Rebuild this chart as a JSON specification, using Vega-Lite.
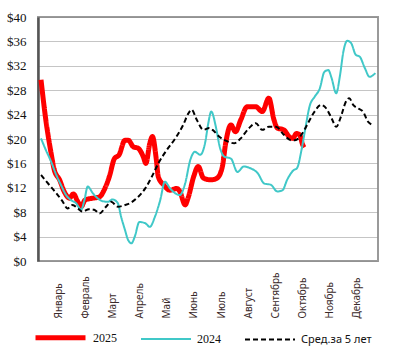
{
  "$schema": "https://vega.github.io/schema/vega-lite/v6.json",
  "width": 340,
  "height": 244,
  "autosize": {"type": "none"},
  "padding": {"left": 38, "top": 17, "right": 21, "bottom": 92},
  "background": "white",
  "config": {
    "view": {"stroke": "#9a9a9a", "strokeWidth": 2},
    "font": "Liberation Serif"
  },
  "data": {
    "values": [
      {"series": "2025", "week": 0.46, "price": 29.7},
      {"series": "2025", "week": 1.2, "price": 23.1},
      {"series": "2025", "week": 2.0, "price": 17.7},
      {"series": "2025", "week": 2.5, "price": 14.9},
      {"series": "2025", "week": 3.3, "price": 13.3},
      {"series": "2025", "week": 4.0, "price": 11.4},
      {"series": "2025", "week": 4.8, "price": 10.3},
      {"series": "2025", "week": 5.4, "price": 11.0},
      {"series": "2025", "week": 6.1, "price": 9.7},
      {"series": "2025", "week": 6.6, "price": 8.9},
      {"series": "2025", "week": 7.2, "price": 10.0},
      {"series": "2025", "week": 8.4, "price": 10.3},
      {"series": "2025", "week": 9.4, "price": 10.5},
      {"series": "2025", "week": 10.1, "price": 11.6},
      {"series": "2025", "week": 10.9, "price": 13.8},
      {"series": "2025", "week": 11.7, "price": 16.8},
      {"series": "2025", "week": 12.4, "price": 17.4},
      {"series": "2025", "week": 13.3, "price": 19.8},
      {"series": "2025", "week": 13.8, "price": 19.8},
      {"series": "2025", "week": 14.6, "price": 18.7},
      {"series": "2025", "week": 15.3, "price": 18.5},
      {"series": "2025", "week": 16.1, "price": 17.1},
      {"series": "2025", "week": 16.5, "price": 16.0},
      {"series": "2025", "week": 17.1, "price": 19.3},
      {"series": "2025", "week": 17.5, "price": 20.4},
      {"series": "2025", "week": 18.1, "price": 16.6},
      {"series": "2025", "week": 18.4, "price": 13.8},
      {"series": "2025", "week": 19.2, "price": 12.5},
      {"series": "2025", "week": 20.2, "price": 11.6},
      {"series": "2025", "week": 21.2, "price": 11.9},
      {"series": "2025", "week": 21.7, "price": 11.4},
      {"series": "2025", "week": 22.5, "price": 9.2},
      {"series": "2025", "week": 23.0, "price": 10.5},
      {"series": "2025", "week": 23.8, "price": 13.8},
      {"series": "2025", "week": 24.5, "price": 15.5},
      {"series": "2025", "week": 25.3, "price": 13.6},
      {"series": "2025", "week": 26.4, "price": 13.3},
      {"series": "2025", "week": 27.4, "price": 13.6},
      {"series": "2025", "week": 28.2, "price": 15.5},
      {"series": "2025", "week": 28.7, "price": 19.3},
      {"series": "2025", "week": 29.5, "price": 22.3},
      {"series": "2025", "week": 30.2, "price": 21.2},
      {"series": "2025", "week": 31.0, "price": 23.1},
      {"series": "2025", "week": 32.0, "price": 25.3},
      {"series": "2025", "week": 33.3, "price": 25.3},
      {"series": "2025", "week": 34.3, "price": 24.5},
      {"series": "2025", "week": 35.3, "price": 26.7},
      {"series": "2025", "week": 36.1, "price": 23.1},
      {"series": "2025", "week": 36.6, "price": 21.8},
      {"series": "2025", "week": 37.6, "price": 21.5},
      {"series": "2025", "week": 38.4, "price": 20.4},
      {"series": "2025", "week": 39.0, "price": 20.1},
      {"series": "2025", "week": 39.5, "price": 20.9},
      {"series": "2025", "week": 40.0, "price": 20.7},
      {"series": "2025", "week": 40.5, "price": 19.0},
      {"series": "2025", "week": 40.7, "price": 18.6},

      {"series": "2024", "week": 0.46, "price": 20.1},
      {"series": "2024", "week": 1.2, "price": 18.2},
      {"series": "2024", "week": 2.0, "price": 16.3},
      {"series": "2024", "week": 2.8, "price": 14.1},
      {"series": "2024", "week": 3.5, "price": 12.5},
      {"series": "2024", "week": 4.3, "price": 10.8},
      {"series": "2024", "week": 5.0, "price": 10.0},
      {"series": "2024", "week": 5.8, "price": 9.5},
      {"series": "2024", "week": 6.6, "price": 8.4},
      {"series": "2024", "week": 7.1, "price": 10.0},
      {"series": "2024", "week": 7.6, "price": 12.2},
      {"series": "2024", "week": 8.4, "price": 11.1},
      {"series": "2024", "week": 9.1, "price": 10.3},
      {"series": "2024", "week": 9.9, "price": 9.8},
      {"series": "2024", "week": 10.7, "price": 9.7},
      {"series": "2024", "week": 11.4, "price": 10.1},
      {"series": "2024", "week": 12.2, "price": 9.5},
      {"series": "2024", "week": 12.7, "price": 7.3},
      {"series": "2024", "week": 13.3, "price": 5.1},
      {"series": "2024", "week": 13.8, "price": 3.4},
      {"series": "2024", "week": 14.3, "price": 2.9},
      {"series": "2024", "week": 14.8, "price": 4.0},
      {"series": "2024", "week": 15.5, "price": 6.4},
      {"series": "2024", "week": 16.4, "price": 6.2},
      {"series": "2024", "week": 17.1, "price": 5.6},
      {"series": "2024", "week": 17.9, "price": 7.3},
      {"series": "2024", "week": 18.7, "price": 10.0},
      {"series": "2024", "week": 19.4, "price": 13.0},
      {"series": "2024", "week": 20.2, "price": 11.9},
      {"series": "2024", "week": 21.0, "price": 11.1},
      {"series": "2024", "week": 21.7, "price": 10.8},
      {"series": "2024", "week": 22.5, "price": 12.7},
      {"series": "2024", "week": 23.3, "price": 16.6},
      {"series": "2024", "week": 24.0, "price": 17.9},
      {"series": "2024", "week": 24.8, "price": 17.4},
      {"series": "2024", "week": 25.6, "price": 19.6},
      {"series": "2024", "week": 26.0, "price": 22.3},
      {"series": "2024", "week": 26.5, "price": 24.5},
      {"series": "2024", "week": 27.2, "price": 22.0},
      {"series": "2024", "week": 27.8, "price": 18.7},
      {"series": "2024", "week": 28.5, "price": 17.1},
      {"series": "2024", "week": 29.5, "price": 16.8},
      {"series": "2024", "week": 30.5, "price": 14.6},
      {"series": "2024", "week": 31.5, "price": 15.5},
      {"series": "2024", "week": 32.5, "price": 15.2},
      {"series": "2024", "week": 33.6, "price": 14.4},
      {"series": "2024", "week": 34.6, "price": 12.7},
      {"series": "2024", "week": 35.6, "price": 12.5},
      {"series": "2024", "week": 36.6, "price": 11.4},
      {"series": "2024", "week": 37.4, "price": 11.6},
      {"series": "2024", "week": 38.1, "price": 13.3},
      {"series": "2024", "week": 39.1, "price": 14.9},
      {"series": "2024", "week": 39.6, "price": 15.2},
      {"series": "2024", "week": 40.3, "price": 18.2},
      {"series": "2024", "week": 40.8, "price": 21.2},
      {"series": "2024", "week": 41.6, "price": 25.6},
      {"series": "2024", "week": 42.3, "price": 26.9},
      {"series": "2024", "week": 43.1, "price": 28.3},
      {"series": "2024", "week": 43.8, "price": 31.0},
      {"series": "2024", "week": 44.4, "price": 31.3},
      {"series": "2024", "week": 44.9, "price": 30.0},
      {"series": "2024", "week": 45.6, "price": 27.5},
      {"series": "2024", "week": 46.2, "price": 30.5},
      {"series": "2024", "week": 46.7, "price": 34.3},
      {"series": "2024", "week": 47.3, "price": 36.1},
      {"series": "2024", "week": 47.9, "price": 35.7},
      {"series": "2024", "week": 48.6, "price": 33.8},
      {"series": "2024", "week": 49.2, "price": 33.5},
      {"series": "2024", "week": 50.0, "price": 31.6},
      {"series": "2024", "week": 50.7, "price": 30.2},
      {"series": "2024", "week": 51.6, "price": 30.8},

      {"series": "Сред.за 5 лет", "week": 0.46, "price": 14.1},
      {"series": "Сред.за 5 лет", "week": 1.7, "price": 12.5},
      {"series": "Сред.за 5 лет", "week": 2.8, "price": 11.1},
      {"series": "Сред.за 5 лет", "week": 3.8, "price": 9.7},
      {"series": "Сред.за 5 лет", "week": 4.5, "price": 8.6},
      {"series": "Сред.за 5 лет", "week": 5.3, "price": 9.2},
      {"series": "Сред.за 5 лет", "week": 6.1, "price": 8.6},
      {"series": "Сред.за 5 лет", "week": 6.8, "price": 8.1},
      {"series": "Сред.за 5 лет", "week": 7.8, "price": 8.5},
      {"series": "Сред.за 5 лет", "week": 8.6, "price": 8.4},
      {"series": "Сред.за 5 лет", "week": 9.4, "price": 7.8},
      {"series": "Сред.за 5 лет", "week": 10.4, "price": 8.9},
      {"series": "Сред.за 5 лет", "week": 11.2, "price": 9.7},
      {"series": "Сред.за 5 лет", "week": 12.2, "price": 8.9},
      {"series": "Сред.за 5 лет", "week": 13.4, "price": 9.2},
      {"series": "Сред.за 5 лет", "week": 14.1, "price": 9.5},
      {"series": "Сред.за 5 лет", "week": 15.3, "price": 10.5},
      {"series": "Сред.за 5 лет", "week": 16.4, "price": 11.9},
      {"series": "Сред.за 5 лет", "week": 17.4, "price": 13.8},
      {"series": "Сред.за 5 лет", "week": 18.4, "price": 16.0},
      {"series": "Сред.за 5 лет", "week": 19.7, "price": 18.2},
      {"series": "Сред.за 5 лет", "week": 21.0, "price": 20.1},
      {"series": "Сред.за 5 лет", "week": 22.2, "price": 22.3},
      {"series": "Сред.за 5 лет", "week": 23.0, "price": 24.2},
      {"series": "Сред.за 5 лет", "week": 23.5, "price": 24.8},
      {"series": "Сред.за 5 лет", "week": 24.3, "price": 23.1},
      {"series": "Сред.за 5 лет", "week": 25.3, "price": 21.5},
      {"series": "Сред.за 5 лет", "week": 26.2, "price": 21.8},
      {"series": "Сред.за 5 лет", "week": 26.7, "price": 21.5},
      {"series": "Сред.за 5 лет", "week": 27.7, "price": 20.4},
      {"series": "Сред.за 5 лет", "week": 29.0, "price": 19.6},
      {"series": "Сред.за 5 лет", "week": 30.0, "price": 19.3},
      {"series": "Сред.за 5 лет", "week": 31.0, "price": 20.1},
      {"series": "Сред.за 5 лет", "week": 32.3, "price": 21.8},
      {"series": "Сред.за 5 лет", "week": 33.3, "price": 22.6},
      {"series": "Сред.за 5 лет", "week": 34.3, "price": 21.5},
      {"series": "Сред.за 5 лет", "week": 35.3, "price": 22.0},
      {"series": "Сред.за 5 лет", "week": 36.4, "price": 22.0},
      {"series": "Сред.за 5 лет", "week": 37.6, "price": 20.7},
      {"series": "Сред.за 5 лет", "week": 38.7, "price": 19.8},
      {"series": "Сред.за 5 лет", "week": 39.3, "price": 19.8},
      {"series": "Сред.за 5 лет", "week": 40.3, "price": 20.7},
      {"series": "Сред.за 5 лет", "week": 41.3, "price": 22.6},
      {"series": "Сред.за 5 лет", "week": 42.3, "price": 24.5},
      {"series": "Сред.за 5 лет", "week": 43.3, "price": 25.6},
      {"series": "Сред.за 5 лет", "week": 44.1, "price": 25.0},
      {"series": "Сред.за 5 лет", "week": 44.9, "price": 23.4},
      {"series": "Сред.за 5 лет", "week": 45.6, "price": 22.0},
      {"series": "Сред.за 5 лет", "week": 46.4, "price": 23.9},
      {"series": "Сред.за 5 лет", "week": 47.0, "price": 25.9},
      {"series": "Сред.за 5 лет", "week": 47.6, "price": 26.7},
      {"series": "Сред.за 5 лет", "week": 48.2, "price": 25.6},
      {"series": "Сред.за 5 лет", "week": 49.0, "price": 25.0},
      {"series": "Сред.за 5 лет", "week": 49.7, "price": 24.5},
      {"series": "Сред.за 5 лет", "week": 50.5, "price": 22.8},
      {"series": "Сред.за 5 лет", "week": 51.3, "price": 22.3}
    ]
  },
  "mark": {"type": "line", "interpolate": "monotone", "strokeCap": "butt"},
  "encoding": {
    "x": {
      "field": "week",
      "type": "quantitative",
      "scale": {"domain": [0, 52], "nice": false, "zero": false},
      "axis": {
        "title": null,
        "grid": false,
        "ticks": false,
        "domain": false,
        "values": [3.1, 7.25, 11.4, 15.55, 19.7, 23.85, 28.0, 32.15, 36.3, 40.45, 44.6, 48.75],
        "labelExpr": "['Январь','Февраль','Март','Апрель','Май','Июнь','Июль','Август','Сентябрь','Октябрь','Ноябрь','Декабрь'][round((datum.value - 3.1) / 4.15)]",
        "labelAngle": 270,
        "labelAlign": "left",
        "labelBaseline": "middle",
        "labelPadding": 57,
        "labelFont": "Noto Sans",
        "labelFontSize": 10,
        "labelColor": "#3a2a2a",
        "labelOverlap": false,
        "labelFlush": false
      }
    },
    "y": {
      "field": "price",
      "type": "quantitative",
      "scale": {"domain": [0, 40], "nice": false},
      "axis": {
        "title": null,
        "values": [0, 4, 8, 12, 16, 20, 24, 28, 32, 36, 40],
        "labelExpr": "'$' + datum.value",
        "ticks": false,
        "labelPadding": 12,
        "labelFont": "Liberation Serif",
        "labelFontSize": 13,
        "labelColor": "#111",
        "domainColor": "#555",
        "domainWidth": 2.5,
        "gridColor": "#8a8a8a",
        "gridDash": [1, 1],
        "gridWidth": 1
      }
    },
    "color": {
      "field": "series",
      "type": "nominal",
      "scale": {"domain": ["2025", "2024", "Сред.за 5 лет"], "range": ["#ff0000", "#40c8c8", "#000000"]},
      "legend": {
        "title": null,
        "orient": "none",
        "direction": "horizontal",
        "legendX": -5,
        "legendY": 293,
        "symbolType": "stroke",
        "symbolSize": 2500,
        "labelFont": "Liberation Serif",
        "labelFontSize": 12,
        "labelColor": "#111",
        "labelOffset": 5,
        "columnPadding": 20,
        "encode": {
          "labels": {
            "update": {
              "font": {"signal": "datum.label === 'Сред.за 5 лет' ? 'Noto Sans' : 'Liberation Serif'"},
              "fontSize": {"signal": "datum.label === 'Сред.за 5 лет' ? 11 : 12"}
            }
          }
        }
      }
    },
    "strokeWidth": {
      "field": "series",
      "type": "nominal",
      "scale": {"type": "ordinal", "domain": ["2025", "2024", "Сред.за 5 лет"], "range": [5, 2, 2]}
    },
    "strokeDash": {
      "field": "series",
      "type": "nominal",
      "scale": {"domain": ["2025", "2024", "Сред.за 5 лет"], "range": [[1, 0], [1, 0], [5, 3]]}
    }
  }
}
